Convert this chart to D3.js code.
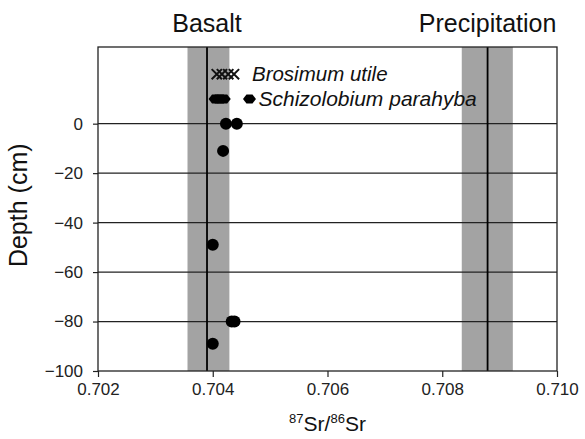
<!DOCTYPE html>
<html>
<head>
<meta charset="utf-8">
<script src="https://cdn.jsdelivr.net/npm/d3@7"></script>
<style>
  body { margin: 0; background: #fff; }
  svg text { font-family: "Liberation Sans", Arial, sans-serif; fill: #111; }
</style>
</head>
<body>
<div id="chart"></div>
<script>
var width = 585;
var height = 439;
var margin = { top: 47, right: 28, bottom: 68, left: 98 };

// x ticks and y ticks
var xTicks = [0.702, 0.704, 0.706, 0.708, 0.710];
var yTicks = [0, -20, -40, -60, -80, -100];

// end members: mean line and shaded range
var endNames = ["Basalt", "Precipitation"];
var endMean = [0.70390, 0.70879];
var endLow = [0.70356, 0.70834];
var endHigh = [0.70429, 0.70923];

// plant samples
var brosimumSr = [0.70407, 0.70416, 0.70427, 0.70437];
var brosimumDepth = [20, 20, 20, 20];
var schizoSr = [0.70404, 0.70409, 0.70414, 0.70420, 0.70464];
var schizoDepth = [10, 10, 10, 10, 10];

// soil samples
var soilSr = [0.70423, 0.70442, 0.70418, 0.70400, 0.70433, 0.70438, 0.70400];
var soilDepth = [0, 0, -11, -49, -80, -80, -89];

var svg = d3.select("#chart").append("svg")
    .attr("width", width)
    .attr("height", height);

var x = d3.scaleLinear()
    .domain([0.702, 0.710])
    .range([margin.left, width - margin.right]);

var y = d3.scaleLinear()
    .domain([-100, 31])
    .range([height - margin.bottom, margin.top]);

// shaded bands
svg.selectAll("rect.band")
    .data(endNames)
    .enter().append("rect")
    .attr("class", "band")
    .attr("x", function(d, i) { return x(endLow[i]); })
    .attr("y", y(31))
    .attr("width", function(d, i) { return x(endHigh[i]) - x(endLow[i]); })
    .attr("height", y(-100) - y(31))
    .style("fill", "#a3a3a3");

// grid lines
svg.selectAll("line.grid")
    .data(yTicks.filter(function(d) { return d > -100; }))
    .enter().append("line")
    .attr("class", "grid")
    .attr("x1", x(0.702))
    .attr("x2", x(0.710))
    .attr("y1", function(d) { return y(d); })
    .attr("y2", function(d) { return y(d); })
    .style("stroke", "#222")
    .style("stroke-width", 1.2);

// mean lines
svg.selectAll("line.mean")
    .data(endNames)
    .enter().append("line")
    .attr("class", "mean")
    .attr("x1", function(d, i) { return x(endMean[i]); })
    .attr("x2", function(d, i) { return x(endMean[i]); })
    .attr("y1", y(31))
    .attr("y2", y(-100))
    .style("stroke", "#000")
    .style("stroke-width", 1.8);

// frame
svg.append("rect")
    .attr("x", x(0.702))
    .attr("y", y(31))
    .attr("width", x(0.710) - x(0.702))
    .attr("height", y(-100) - y(31))
    .style("fill", "none")
    .style("stroke", "#222")
    .style("stroke-width", 1.3);

// axes
var xAxis = svg.append("g")
    .attr("transform", "translate(0," + y(-100) + ")")
    .call(d3.axisBottom(x).tickValues(xTicks).tickFormat(d3.format(".3f")).tickSize(6).tickPadding(6));

var yAxis = svg.append("g")
    .attr("transform", "translate(" + x(0.702) + ",0)")
    .call(d3.axisLeft(y).tickValues(yTicks).tickFormat(function(d) { return d < 0 ? "\u2212" + Math.abs(d) : d; }).tickSize(5).tickPadding(10));

[xAxis, yAxis].forEach(function(a) {
    a.select(".domain").remove();
    a.selectAll("line").style("stroke", "#222").style("stroke-width", 1.2);
    a.selectAll("text")
        .style("font-family", "'Liberation Sans', Arial, sans-serif")
        .style("font-size", "17px")
        .style("fill", "#222");
});

// end member titles
svg.selectAll("text.endname")
    .data(endNames)
    .enter().append("text")
    .attr("class", "endname")
    .attr("x", function(d, i) { return x(endMean[i]); })
    .attr("y", 32)
    .attr("text-anchor", "middle")
    .style("font-size", "25px")
    .text(function(d) { return d; });

// soil points
svg.selectAll("circle.soil")
    .data(soilSr)
    .enter().append("circle")
    .attr("class", "soil")
    .attr("cx", function(d) { return x(d); })
    .attr("cy", function(d, i) { return y(soilDepth[i]); })
    .attr("r", 6)
    .style("fill", "#000");

// Schizolobium: flattened diamonds
svg.selectAll("path.schizo")
    .data(schizoSr)
    .enter().append("path")
    .attr("class", "schizo")
    .attr("d", "M-6.5,0 L-3,-4.5 L3,-4.5 L6.5,0 L3,4.5 L-3,4.5 Z")
    .attr("transform", function(d, i) { return "translate(" + x(d) + "," + y(schizoDepth[i]) + ")"; })
    .style("fill", "#000");

// Brosimum: crosses
var cross = d3.symbol().type(d3.symbolX).size(70);
svg.selectAll("path.brosimum")
    .data(brosimumSr)
    .enter().append("path")
    .attr("class", "brosimum")
    .attr("d", cross)
    .attr("transform", function(d, i) { return "translate(" + x(d) + "," + y(brosimumDepth[i]) + ")"; })
    .style("fill", "none")
    .style("stroke", "#111")
    .style("stroke-width", 2);

// species labels
svg.append("text")
    .attr("x", x(d3.max(brosimumSr)) + 18)
    .attr("y", y(20) + 7)
    .style("font-size", "20.5px")
    .style("font-style", "italic")
    .text("Brosimum utile");

svg.append("text")
    .attr("x", x(d3.max(schizoSr)) + 9)
    .attr("y", y(10) + 7)
    .style("font-size", "21px")
    .style("font-style", "italic")
    .text("Schizolobium parahyba");

// axis titles
svg.append("text")
    .attr("transform", "translate(27," + y(-33) + ") rotate(-90)")
    .attr("text-anchor", "middle")
    .style("font-size", "25px")
    .text("Depth (cm)");

var xt = svg.append("text")
    .attr("x", x(0.706))
    .attr("y", 431)
    .attr("text-anchor", "middle")
    .style("font-size", "21px");
xt.append("tspan").attr("dy", "-8").style("font-size", "13px").text("87");
xt.append("tspan").attr("dy", "8").text("Sr/");
xt.append("tspan").attr("dy", "-8").style("font-size", "13px").text("86");
xt.append("tspan").attr("dy", "8").text("Sr");
</script>
</body>
</html>
